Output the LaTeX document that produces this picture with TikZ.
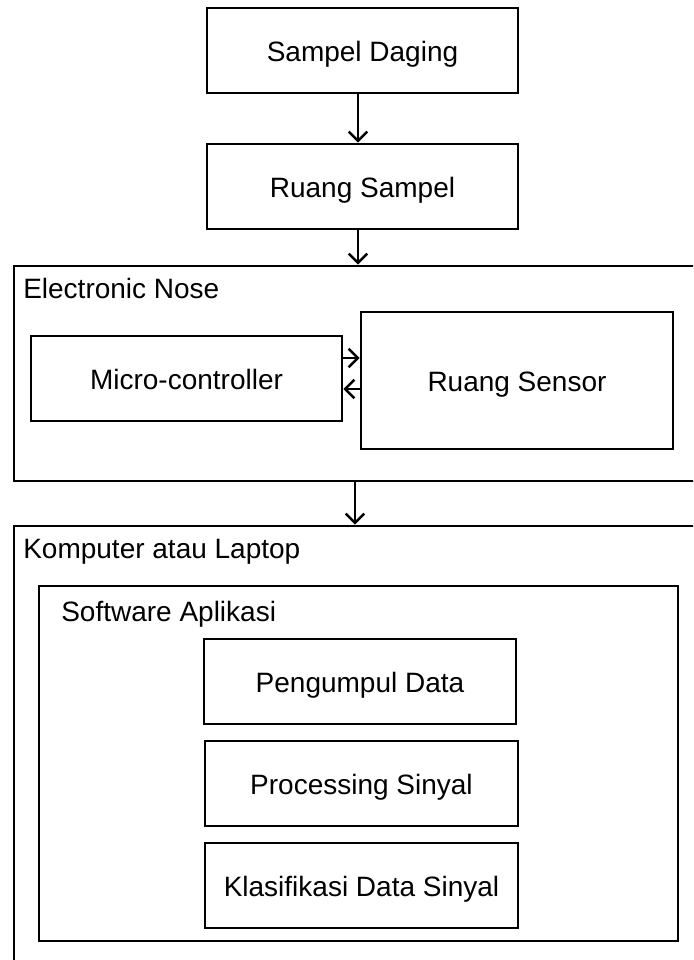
\documentclass[tikz,border=0pt]{standalone}
\usepackage{fontspec}
\setmainfont{Liberation Sans}
\usetikzlibrary{arrows.meta}
\tikzset{
  box/.style={draw, line width=1.9pt, rectangle, inner sep=0pt, text height=16.5pt, text depth=0pt, font=\fontsize{21pt}{25pt}\selectfont},
  sz/.style 2 args={minimum width=#1*0.75pt, minimum height=#2*0.75pt},
  lbl/.style={inner sep=0pt, anchor=base west, font=\fontsize{21pt}{25pt}\selectfont},
  arr/.style={line width=1.9pt, -{Straight Barb[length=7pt,width=14pt]}}
}
\begin{document}
\begin{tikzpicture}[x=0.75pt,y=-0.75pt]
\clip (0,0) rectangle (693,960);
\fill[white] (0,0) rectangle (693,960);
% top boxes
\node[box, sz={311}{85}] (sd) at (362.5,50.5) {Sampel Daging};
\node[box, sz={311}{85}] (rsp) at (362.5,186.5) {Ruang Sampel};
% electronic nose
\node[box, sz={696}{215}] (en) at (362,373.5) {};
\node[lbl] (enl) at (23,298) {Electronic Nose};
\node[box, sz={311}{85}] (mc) at (186.5,378.5) {Micro-controller};
\node[box, sz={312}{137}] (rsn) at (517,380.5) {Ruang Sensor};
% computer
\node[box, sz={696}{464}] (kl) at (362,758) {};
\node[lbl] (kll) at (23,558) {Komputer atau Laptop};
\node[box, sz={639}{355}] (sw) at (358.5,763.5) {};
\node[lbl] (swl) at (61,621) {Software Aplikasi};
\node[box, sz={312}{85}] (pd) at (360,681.5) {Pengumpul Data};
\node[box, sz={313}{85}] (ps) at (361.5,783.5) {Processing Sinyal};
\node[box, sz={313}{85}] (kd) at (361.5,885.5) {Klasifikasi Data Sinyal};
% connector coordinates
\coordinate (xa) at (358,0);
\coordinate (xb) at (355,0);
\coordinate (ya) at (0,358);
\coordinate (yb) at (0,389);
% connectors
\draw[arr] (sd.south -| xa) -- (rsp.north -| xa);
\draw[arr] (rsp.south -| xa) -- (en.north -| xa);
\draw[arr] (mc.east |- ya) -- (rsn.west |- ya);
\draw[arr] (rsn.west |- yb) -- (mc.east |- yb);
\draw[arr] (en.south -| xb) -- (kl.north -| xb);
\end{tikzpicture}
\end{document}
